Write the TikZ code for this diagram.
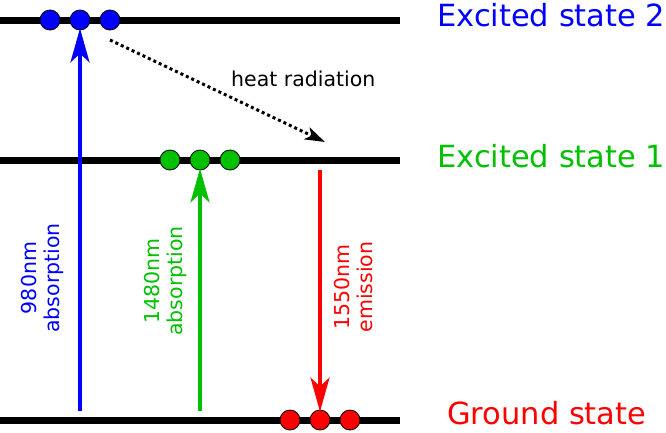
\documentclass[tikz,border=0pt]{standalone}
\usepackage{fontspec}
\setmainfont{DejaVu Sans}
\usetikzlibrary{arrows.meta}
\definecolor{cblue}{RGB}{0,0,255}
\definecolor{cgreen}{RGB}{0,192,0}
\definecolor{cred}{RGB}{255,0,0}
\tikzset{
  level/.style={line width=7pt},
  electron/.style={circle, draw=black, line width=0.8pt, minimum size=20pt, inner sep=0pt},
  transition/.style={line width=4pt, -{Stealth[length=34pt,width=19pt,inset=9pt]}},
  statelabel/.style={anchor=base west, inner sep=0pt, font=\fontsize{30.5}{36}\selectfont},
  vlabel/.style={rotate=90, align=center, inner sep=0pt, font=\fontsize{20.5}{23}\selectfont},
  heat/.style={line width=3pt, dash pattern=on 3pt off 3pt, -{Stealth[length=20pt,width=13pt,inset=5pt]}}
}
\begin{document}
\begin{tikzpicture}[x=1pt,y=-1pt]
\useasboundingbox (0,0) rectangle (666,432);
% energy levels
\coordinate (e2l) at (0,20);   \coordinate (e2r) at (400,20);
\coordinate (e1l) at (0,160);  \coordinate (e1r) at (400,160);
\coordinate (gl) at (0,420);   \coordinate (gr) at (400,420);
\draw[level] (e2l) -- (e2r);
\draw[level] (e1l) -- (e1r);
\draw[level] (gl) -- (gr);
% electrons
\node[electron, fill=cblue] (b1) at (50,20) {};
\node[electron, fill=cblue] (b2) at (80,20) {};
\node[electron, fill=cblue] (b3) at (110,20) {};
\node[electron, fill=cgreen] (g1) at (170,160) {};
\node[electron, fill=cgreen] (g2) at (200,160) {};
\node[electron, fill=cgreen] (g3) at (230,160) {};
\node[electron, fill=cred] (r1) at (290,420) {};
\node[electron, fill=cred] (r2) at (320,420) {};
\node[electron, fill=cred] (r3) at (350,420) {};
% transitions
\coordinate (bstart) at (80,411);
\coordinate (gstart) at (200,411);
\coordinate (rstart) at (320,170);
\coordinate (hstart) at (110,40);
\coordinate (hend) at (325,142);
\draw[transition, cblue] (bstart) -- ([yshift=2pt]b2.south);
\draw[transition, cgreen] (gstart) -- ([yshift=2pt]g2.south);
\draw[transition, cred] (rstart) -- ([yshift=-2pt]r2.north);
\draw[heat] (hstart) -- (hend);
% labels
\node[statelabel, text=cblue] (l2) at (437,26) {Excited state 2};
\node[statelabel, text=cgreen] (l1) at (437,167) {Excited state 1};
\node[statelabel, text=cred] (l0) at (447,424) {Ground state};
\node[anchor=base west, inner sep=0pt, font=\fontsize{20.5}{24}\selectfont] (hr) at (231,86) {heat radiation};
\node[vlabel, text=cblue] (v1) at (43,278) {980nm\\absorption};
\node[vlabel, text=cgreen] (v2) at (166,281) {1480nm\\absorption};
\node[vlabel, text=cred] (v3) at (354,287) {1550nm\\emission};
\end{tikzpicture}
\end{document}
